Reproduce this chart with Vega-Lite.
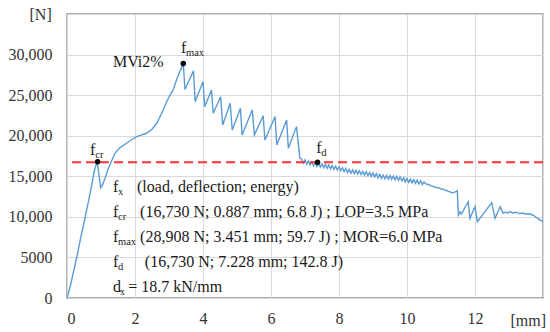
{
  "$schema": "https://vega.github.io/schema/vega-lite/v6.json",
  "width": 476,
  "height": 284,
  "autosize": "none",
  "padding": {"left": 67, "top": 14, "right": 7, "bottom": 34},
  "background": "white",
  "config": {
    "font": "Liberation Serif",
    "view": {"stroke": "#595959", "strokeWidth": 1.3},
    "axis": {"grid": true, "gridColor": "#d9d9d9", "gridWidth": 1, "ticks": false, "domain": false, "labelFont": "Liberation Serif", "labelFontSize": 15, "labelColor": "#333333", "titleFont": "Liberation Serif", "titleFontSize": 15, "titleFontWeight": "normal", "titleColor": "#333333"}
  },
  "datasets": {
    "curve": [
      {"d": 0, "f": 0}, {"d": 0.1, "f": 1500}, {"d": 0.2, "f": 3400}, {"d": 0.3, "f": 5300}, {"d": 0.38, "f": 6940}, {"d": 0.5, "f": 9300}, {"d": 0.63, "f": 11870}, {"d": 0.72, "f": 13800}, {"d": 0.82, "f": 15980}, {"d": 0.887, "f": 16780}, {"d": 0.93, "f": 15500}, {"d": 0.99, "f": 13590}, {"d": 1.05, "f": 14000}, {"d": 1.12, "f": 14750}, {"d": 1.2, "f": 15800}, {"d": 1.26, "f": 16390}, {"d": 1.41, "f": 17830}, {"d": 1.55, "f": 18500}, {"d": 1.75, "f": 19070}, {"d": 1.9, "f": 19500}, {"d": 2.05, "f": 19880}, {"d": 2.2, "f": 20100}, {"d": 2.34, "f": 20300}, {"d": 2.5, "f": 20800}, {"d": 2.64, "f": 21530}, {"d": 2.78, "f": 22700}, {"d": 2.93, "f": 24190}, {"d": 3.03, "f": 25000}, {"d": 3.12, "f": 25630}, {"d": 3.23, "f": 27000}, {"d": 3.32, "f": 27900}, {"d": 3.42, "f": 28908},
      {"d": 3.47, "f": 25700}, {"d": 3.72, "f": 28000}, {"d": 3.77, "f": 24200}, {"d": 4.0, "f": 26660}, {"d": 4.05, "f": 23580}, {"d": 4.25, "f": 25630}, {"d": 4.3, "f": 22760}, {"d": 4.52, "f": 24800}, {"d": 4.58, "f": 21320}, {"d": 4.8, "f": 24000}, {"d": 4.86, "f": 20700}, {"d": 5.1, "f": 23380}, {"d": 5.15, "f": 20090}, {"d": 5.45, "f": 23200}, {"d": 5.51, "f": 20090}, {"d": 5.77, "f": 22470}, {"d": 5.82, "f": 19470}, {"d": 6.12, "f": 22350}, {"d": 6.17, "f": 18860}, {"d": 6.46, "f": 21940}, {"d": 6.51, "f": 18450}, {"d": 6.75, "f": 21120}, {"d": 6.85, "f": 17220},
      {"d": 6.9, "f": 17120}, {"d": 6.95, "f": 16630}, {"d": 7.0, "f": 17010}, {"d": 7.05, "f": 16510}, {"d": 7.1, "f": 16900}, {"d": 7.15, "f": 16400}, {"d": 7.2, "f": 16780}, {"d": 7.25, "f": 16280}, {"d": 7.3, "f": 16670}, {"d": 7.35, "f": 16200}, {"d": 7.4, "f": 16600}, {"d": 7.45, "f": 16130}, {"d": 7.5, "f": 16530}, {"d": 7.55, "f": 16060}, {"d": 7.6, "f": 16460}, {"d": 7.65, "f": 15990}, {"d": 7.7, "f": 16400}, {"d": 7.75, "f": 15920}, {"d": 7.8, "f": 16320}, {"d": 7.85, "f": 15850}, {"d": 7.9, "f": 16250}, {"d": 7.95, "f": 15780}, {"d": 8.0, "f": 16170}, {"d": 8.05, "f": 15680}, {"d": 8.1, "f": 16060}, {"d": 8.15, "f": 15570}, {"d": 8.2, "f": 15950}, {"d": 8.25, "f": 15450}, {"d": 8.3, "f": 15850}, {"d": 8.35, "f": 15380}, {"d": 8.4, "f": 15790}, {"d": 8.45, "f": 15320}, {"d": 8.5, "f": 15730}, {"d": 8.55, "f": 15260}, {"d": 8.6, "f": 15680}, {"d": 8.65, "f": 15210}, {"d": 8.7, "f": 15620}, {"d": 8.75, "f": 15150}, {"d": 8.8, "f": 15560}, {"d": 8.85, "f": 15080}, {"d": 8.9, "f": 15480}, {"d": 8.95, "f": 15000}, {"d": 9.0, "f": 15400}, {"d": 9.05, "f": 14920}, {"d": 9.1, "f": 15320}, {"d": 9.15, "f": 14830}, {"d": 9.2, "f": 15230}, {"d": 9.25, "f": 14750}, {"d": 9.3, "f": 15160}, {"d": 9.35, "f": 14700}, {"d": 9.4, "f": 15120}, {"d": 9.45, "f": 14660}, {"d": 9.5, "f": 15080}, {"d": 9.55, "f": 14620}, {"d": 9.6, "f": 15030}, {"d": 9.65, "f": 14570}, {"d": 9.7, "f": 14990}, {"d": 9.75, "f": 14520}, {"d": 9.8, "f": 14910}, {"d": 9.85, "f": 14420}, {"d": 9.9, "f": 14800}, {"d": 9.95, "f": 14310}, {"d": 10.0, "f": 14720}, {"d": 10.05, "f": 14250}, {"d": 10.1, "f": 14650}, {"d": 10.15, "f": 14180}, {"d": 10.2, "f": 14590}, {"d": 10.25, "f": 14120}, {"d": 10.3, "f": 14520}, {"d": 10.35, "f": 14050}, {"d": 10.4, "f": 14450}, {"d": 10.45, "f": 13980}, {"d": 10.5, "f": 14300},
      {"d": 10.55, "f": 14100}, {"d": 10.6, "f": 13980}, {"d": 10.65, "f": 14000}, {"d": 10.7, "f": 13830}, {"d": 10.75, "f": 13800}, {"d": 10.8, "f": 13640}, {"d": 10.85, "f": 13690}, {"d": 10.9, "f": 13540}, {"d": 10.95, "f": 13570}, {"d": 11.0, "f": 13420}, {"d": 11.05, "f": 13430}, {"d": 11.1, "f": 13300}, {"d": 11.15, "f": 13280}, {"d": 11.2, "f": 13160}, {"d": 11.25, "f": 13120}, {"d": 11.3, "f": 13000}, {"d": 11.35, "f": 12960}, {"d": 11.4, "f": 13050}, {"d": 11.45, "f": 13150}, {"d": 11.48, "f": 13220},
      {"d": 11.51, "f": 10230}, {"d": 11.56, "f": 10640}, {"d": 11.6, "f": 10350}, {"d": 11.8, "f": 11870}, {"d": 11.85, "f": 9820}, {"d": 12.0, "f": 11250}, {"d": 12.07, "f": 9400}, {"d": 12.25, "f": 10400}, {"d": 12.49, "f": 11750}, {"d": 12.59, "f": 9820}, {"d": 12.74, "f": 11250}, {"d": 12.83, "f": 10440}, {"d": 12.9, "f": 10600}, {"d": 12.95, "f": 10450}, {"d": 13.03, "f": 10640}, {"d": 13.1, "f": 10480}, {"d": 13.2, "f": 10560}, {"d": 13.32, "f": 10400}, {"d": 13.4, "f": 10480}, {"d": 13.5, "f": 10350}, {"d": 13.6, "f": 10380}, {"d": 13.71, "f": 10200}, {"d": 13.8, "f": 9950}, {"d": 13.91, "f": 9610}, {"d": 14.0, "f": 9450}
    ],
    "marks": [
      {"d": 0.9, "f": 16780}, {"d": 3.42, "f": 28908}, {"d": 7.37, "f": 16730}
    ],
    "txt": [
      {"x": 0.68, "y": 18240, "t": "f"},
      {"x": 3.35, "y": 30810, "t": "f"},
      {"x": 7.33, "y": 18490, "t": "f"},
      {"x": 1.35, "y": 29085, "t": "MVi2%"},
      {"x": 1.35, "y": 13680, "t": "f"},
      {"x": 2.06, "y": 13680, "t": "(load, deflection; energy)"},
      {"x": 1.35, "y": 10599, "t": "f"},
      {"x": 2.15, "y": 10599, "t": "(16,730 N; 0.887 mm; 6.8 J) ; LOP=3.5 MPa"},
      {"x": 1.35, "y": 7518, "t": "f"},
      {"x": 2.15, "y": 7518, "t": "(28,908 N; 3.451 mm; 59.7 J) ; MOR=6.0 MPa"},
      {"x": 1.35, "y": 4437, "t": "f"},
      {"x": 2.29, "y": 4437, "t": "(16,730 N; 7.228 mm; 142.8 J)"},
      {"x": 1.35, "y": 1356, "t": "d"},
      {"x": 1.8, "y": 1356, "t": "= 18.7 kN/mm"}
    ],
    "sub": [
      {"x": 0.83, "y": 18240, "t": "cr"},
      {"x": 3.5, "y": 30810, "t": "max"},
      {"x": 7.48, "y": 18490, "t": "d"},
      {"x": 1.5, "y": 13680, "t": "x"},
      {"x": 1.5, "y": 10599, "t": "cr"},
      {"x": 1.5, "y": 7518, "t": "max"},
      {"x": 1.5, "y": 4437, "t": "d"},
      {"x": 1.55, "y": 1356, "t": "x"}
    ]
  },
  "layer": [
    {
      "data": {"name": "curve"},
      "mark": {"type": "line", "color": "#5b9bd5", "strokeWidth": 1.4, "clip": true},
      "encoding": {
        "x": {"field": "d", "type": "quantitative", "scale": {"domain": [0, 14], "nice": false}, "axis": {"values": [0, 2, 4, 6, 8, 10, 12, 14], "labelExpr": "datum.value == 14 ? '' : datum.label", "labelFont": "Liberation Serif", "labelFontSize": 16, "labelPadding": 12, "title": "[mm]", "titleFont": "Liberation Serif", "titleFontSize": 16, "titleAlign": "left", "titleAnchor": "start", "titleX": 443, "titleY": 22, "titleBaseline": "middle"}},
        "y": {"field": "f", "type": "quantitative", "scale": {"domain": [0, 35000], "nice": false}, "axis": {"values": [0, 5000, 10000, 15000, 20000, 25000, 30000, 35000], "labelExpr": "datum.value == 35000 ? '' : (datum.value >= 10000 ? format(datum.value, ',') : format(datum.value, 'd'))", "labelFont": "Liberation Serif", "labelFontSize": 16, "labelPadding": 15, "title": "[N]", "titleFont": "Liberation Serif", "titleFontSize": 16, "titleAngle": 0, "titleAlign": "left", "titleBaseline": "middle", "titleX": -38, "titleY": 0}}
      }
    },
    {
      "data": {"values": [{"v": 16730}]},
      "mark": {"type": "rule", "color": "#ff3333", "strokeWidth": 2, "strokeDash": [9, 5]},
      "encoding": {"y": {"field": "v", "type": "quantitative"}}
    },
    {
      "data": {"name": "marks"},
      "mark": {"type": "circle", "color": "black", "opacity": 1, "size": 30},
      "encoding": {"x": {"field": "d", "type": "quantitative"}, "y": {"field": "f", "type": "quantitative"}}
    },
    {
      "data": {"name": "txt"},
      "mark": {"type": "text", "align": "left", "baseline": "middle", "fontSize": 16, "color": "#1a1a1a", "font": "Liberation Serif"},
      "encoding": {"x": {"field": "x", "type": "quantitative"}, "y": {"field": "y", "type": "quantitative"}, "text": {"field": "t"}}
    },
    {
      "data": {"name": "sub"},
      "mark": {"type": "text", "align": "left", "baseline": "middle", "fontSize": 10.5, "dy": 5, "color": "#1a1a1a", "font": "Liberation Serif"},
      "encoding": {"x": {"field": "x", "type": "quantitative"}, "y": {"field": "y", "type": "quantitative"}, "text": {"field": "t"}}
    }
  ]
}
